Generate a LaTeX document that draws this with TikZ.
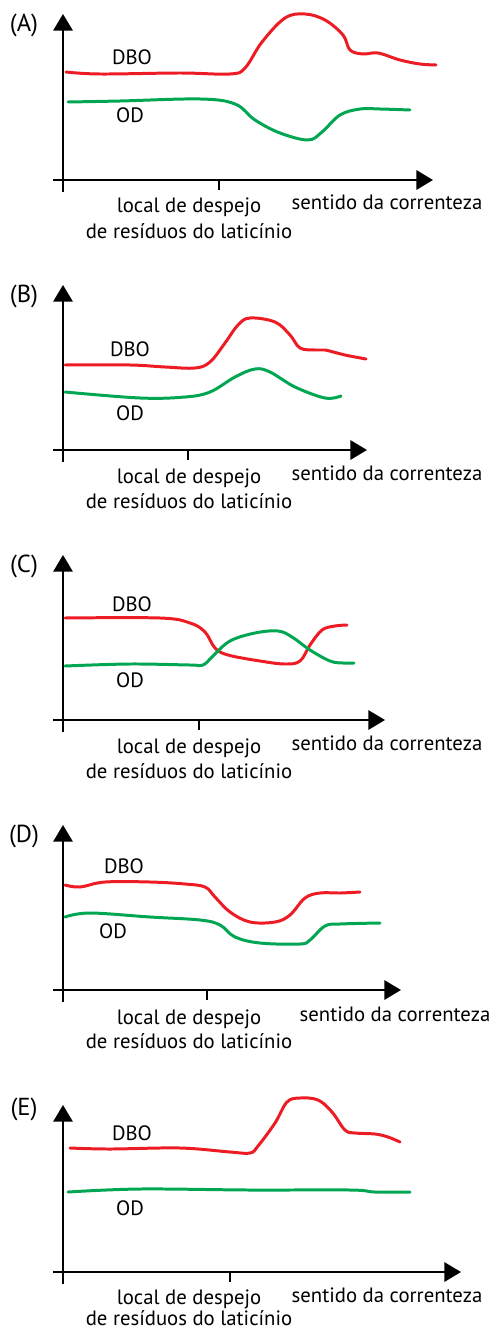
\documentclass[tikz,border=0pt]{standalone}
\usepackage{fontspec}
\setmainfont{PT Sans}
\usetikzlibrary{arrows.meta}
\usetikzlibrary{positioning}
\tikzset{eixo/.style = {line width = 1.3pt, -{Triangle[length = 9.5pt, width = 11pt]}}}
\tikzset{marca/.style = {line width = 1.3pt}}
\tikzset{curva/.style = {line width = 1.7pt, line cap = round, line join = round}}
\tikzset{rot/.style = {font = \fontsize{11.8}{14}\selectfont, anchor = base, inner sep = 0}}
\tikzset{letra/.style = {font = \fontsize{14}{16}\selectfont, anchor = base, inner sep = 0}}
\definecolor{mred}{RGB}{237, 28, 36}
\definecolor{mgreen}{RGB}{0, 166, 81}

\begin{document}
\begin{tikzpicture}[x = 0.02cm, y = -0.02cm]
    \useasboundingbox (0, 0) rectangle (494, 1331);

    % (A)
    \begin{scope}[shift={(0, 0)}]
      \node [letra] (letraA) at (24, 32) {(A)};
      \coordinate (y0A) at (63, 192);
      \coordinate (y1A) at (63, 14);
      \coordinate (x0A) at (53, 180);
      \coordinate (x1A) at (433, 180);
      \coordinate (t0A) at (219, 180);
      \coordinate (t1A) at (219, 190);
      \draw [eixo] (y0A) -- (y1A);
      \draw [eixo] (x0A) -- (x1A);
      \draw [marca] (t0A) -- (t1A);

      \draw [curva, mred] plot [smooth, tension = 0.6] coordinates {(66, 72) (100, 74) (180, 73) (230, 74) (245, 68) (262, 42) (285, 18) (305, 14) (325, 20) (343, 35) (350, 50) (363, 54) (378, 53) (400, 60) (420, 64) (436, 65)};
      \draw [curva, mgreen] plot [smooth, tension = 0.6] coordinates {(68, 102) (120, 101) (200, 99) (235, 104) (255, 120) (280, 133) (308, 140) (322, 132) (340, 115) (360, 109) (380, 109) (410, 110)};

      \node [rot] (dboA) at (132, 65) {DBO};
      \node [rot] (odA) at (130, 123) {OD};
      \node [rot] (localA) at (189, 213) {local de despejo};
      \node [rot] (resA) at (189, 238) {de resíduos do laticínio};
      \node [rot] (sentA) at (387, 210) {sentido da correnteza};
    \end{scope}

    % (B)
    \begin{scope}[shift={(0, 270)}]
      \node [letra] (letraB) at (24, 32) {(B)};
      \coordinate (y0B) at (63, 192);
      \coordinate (y1B) at (63, 15);
      \coordinate (x0B) at (53, 180);
      \coordinate (x1B) at (367, 180);
      \coordinate (t0B) at (188, 180);
      \coordinate (t1B) at (188, 190);
      \draw [eixo] (y0B) -- (y1B);
      \draw [eixo] (x0B) -- (x1B);
      \draw [marca] (t0B) -- (t1B);

      \draw [curva, mred] plot [smooth, tension = 0.6] coordinates {(65, 95) (130, 95) (165, 97) (195, 98) (210, 92) (225, 73) (238, 55) (250, 48) (275, 52) (290, 65) (300, 78) (315, 80) (325, 80) (345, 85) (366, 89)};
      \draw [curva, mgreen] plot [smooth, tension = 0.6] coordinates {(65, 122) (140, 128) (185, 127) (210, 122) (235, 107) (255, 99) (270, 102) (295, 117) (325, 128) (341, 126)};

      \node [rot] (dboB) at (130, 86) {DBO};
      \node [rot] (odB) at (130, 150) {OD};
      \node [rot] (localB) at (189, 213) {local de despejo};
      \node [rot] (resB) at (189, 238) {de resíduos do laticínio};
      \node [rot] (sentB) at (387, 210) {sentido da correnteza};
    \end{scope}

    % (C)
    \begin{scope}[shift={(0, 540)}]
      \node [letra] (letraC) at (24, 32) {(C)};
      \coordinate (y0C) at (63, 192);
      \coordinate (y1C) at (63, 15);
      \coordinate (x0C) at (53, 180);
      \coordinate (x1C) at (385, 180);
      \coordinate (t0C) at (199, 180);
      \coordinate (t1C) at (199, 190);
      \draw [eixo] (y0C) -- (y1C);
      \draw [eixo] (x0C) -- (x1C);
      \draw [marca] (t0C) -- (t1C);

      \draw [curva, mred] plot [smooth, tension = 0.6] coordinates {(65, 78) (160, 78) (190, 83) (205, 92) (215, 108) (228, 115) (260, 121) (285, 124) (300, 121) (310, 105) (322, 90) (335, 86) (347, 85)};
      \draw [curva, mgreen] plot [smooth, tension = 0.6] coordinates {(65, 126) (130, 124) (190, 125) (203, 125) (213, 116) (230, 101) (255, 93) (278, 91) (292, 97) (310, 110) (330, 121) (343, 123) (354, 123)};

      \node [rot] (dboC) at (132, 71) {DBO};
      \node [rot] (odC) at (130, 147) {OD};
      \node [rot] (localC) at (189, 213) {local de despejo};
      \node [rot] (resC) at (189, 238) {de resíduos do laticínio};
      \node [rot] (sentC) at (387, 210) {sentido da correnteza};
    \end{scope}

    % (D)
    \begin{scope}[shift={(0, 810)}]
      \node [letra] (letraD) at (24, 32) {(D)};
      \coordinate (y0D) at (63, 192);
      \coordinate (y1D) at (63, 15);
      \coordinate (x0D) at (53, 180);
      \coordinate (x1D) at (401, 180);
      \coordinate (t0D) at (207, 180);
      \coordinate (t1D) at (207, 190);
      \draw [eixo] (y0D) -- (y1D);
      \draw [eixo] (x0D) -- (x1D);
      \draw [marca] (t0D) -- (t1D);

      \draw [curva, mred] plot [smooth, tension = 0.6] coordinates {(65, 75) (80, 77) (105, 72) (150, 72) (185, 74) (205, 77) (215, 87) (230, 102) (250, 112) (275, 112) (290, 105) (305, 88) (320, 83) (340, 83) (360, 82)};
      \draw [curva, mgreen] plot [smooth, tension = 0.6] coordinates {(65, 107) (90, 103) (150, 107) (200, 110) (220, 115) (235, 127) (260, 133) (300, 134) (310, 130) (325, 116) (340, 114) (380, 113)};

      \node [rot] (dboD) at (124, 63) {DBO};
      \node [rot] (odD) at (113, 128) {OD};
      \node [rot] (localD) at (189, 214) {local de despejo};
      \node [rot] (resD) at (189, 238) {de resíduos do laticínio};
      \node [rot] (sentD) at (395, 211) {sentido da correnteza};
    \end{scope}

    % (E)
    \begin{scope}[shift={(0, 1080)}]
      \node [letra] (letraE) at (24, 35) {(E)};
      \coordinate (y0E) at (63, 204);
      \coordinate (y1E) at (63, 25);
      \coordinate (x0E) at (53, 192);
      \coordinate (x1E) at (461, 192);
      \coordinate (t0E) at (230, 192);
      \coordinate (t1E) at (230, 202);
      \draw [eixo] (y0E) -- (y1E);
      \draw [eixo] (x0E) -- (x1E);
      \draw [marca] (t0E) -- (t1E);

      \draw [curva, mred] plot [smooth, tension = 0.6] coordinates {(70, 68) (110, 69) (180, 68) (230, 72) (250, 73) (258, 66) (275, 43) (287, 22) (300, 18) (318, 20) (332, 32) (345, 50) (355, 53) (375, 54) (388, 57) (400, 62)};
      \draw [curva, mgreen] plot [smooth, tension = 0.6] coordinates {(68, 112) (140, 109) (250, 110) (350, 110) (375, 112) (410, 112)};

      \node [rot] (dboE) at (132, 60) {DBO};
      \node [rot] (odE) at (130, 135) {OD};
      \node [rot] (localE) at (189, 224) {local de despejo};
      \node [rot] (resE) at (189, 245) {de resíduos do laticínio};
      \node [rot] (sentE) at (387, 222) {sentido da correnteza};
    \end{scope}
  \end{tikzpicture}
\end{document}
